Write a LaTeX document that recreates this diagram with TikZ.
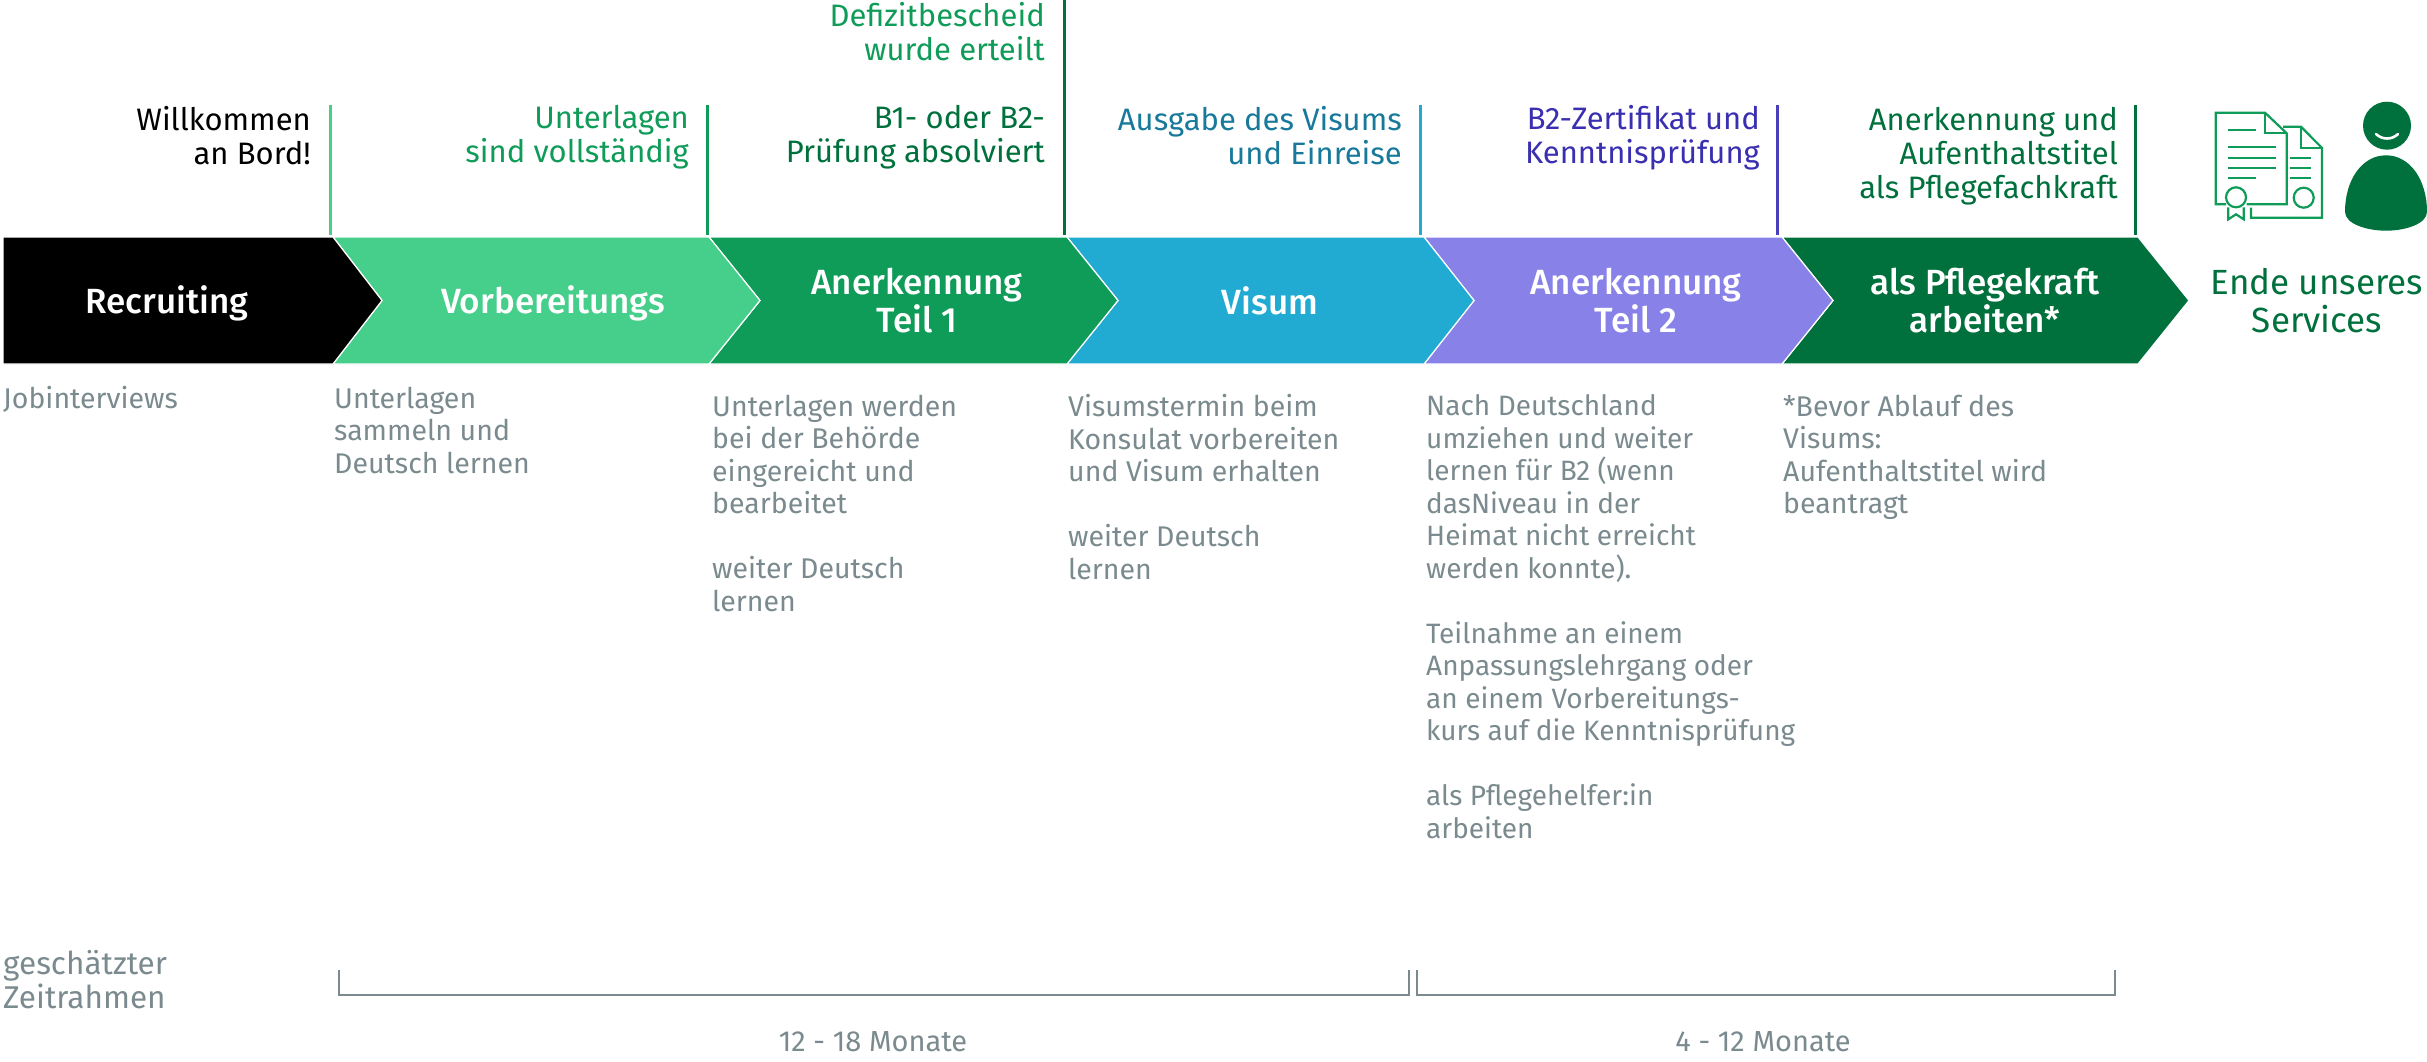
\documentclass[tikz,border=0pt]{standalone}
\usepackage{fontspec}
\setmainfont{Fira Sans}
\newfontfamily\phasefont{Fira Sans Medium}
\usetikzlibrary{positioning}

\definecolor{phaseBlack}{HTML}{000000}
\definecolor{phaseMint}{HTML}{46CE8B}
\definecolor{phaseGreen}{HTML}{0F9B58}
\definecolor{phaseBlue}{HTML}{22ABD2}
\definecolor{phaseViolet}{HTML}{8781E8}
\definecolor{phaseDark}{HTML}{00703C}
\definecolor{textBlue}{HTML}{18799B}
\definecolor{textViolet}{HTML}{3A2FB0}
\definecolor{textGrey}{HTML}{7A8A8E}

\tikzset{
chevron/.style={draw=white,line width=1.2pt},
phase/.style={text=white,font=\phasefont\fontsize{35}{38}\selectfont,align=center,inner sep=0pt},
milestone/.style={align=right,anchor=east,inner sep=0pt,font=\fontsize{31}{34}\selectfont},
mark line/.style={line width=3pt},
note/.style={text=textGrey,align=left,anchor=north west,inner sep=0pt,font=\fontsize{28.5}{32.5}\selectfont},
span/.style={text=textGrey,inner sep=0pt,font=\fontsize{29}{32.5}\selectfont},
bracket/.style={draw=textGrey,line width=2pt},
icon/.style={draw=phaseGreen,line width=2.2pt}
}

\begin{document}
\begin{tikzpicture}[%
x=1pt,
y=-1pt,
node distance=386pt,
on grid
]
\useasboundingbox (0,0) rectangle (2427,1061);

% arrows
\path[chevron,fill=phaseDark] (1782,237) -- (2138,237) -- (2189,300.5) -- (2138,364) -- (1782,364) -- (1833,300.5) -- cycle;
\path[chevron,fill=phaseViolet] (1424,237) -- (1782,237) -- (1833,300.5) -- (1782,364) -- (1424,364) -- (1474,300.5) -- cycle;
\path[chevron,fill=phaseBlue] (1067,237) -- (1424,237) -- (1474,300.5) -- (1424,364) -- (1067,364) -- (1118,300.5) -- cycle;
\path[chevron,fill=phaseGreen] (709,237) -- (1067,237) -- (1118,300.5) -- (1067,364) -- (709,364) -- (760,300.5) -- cycle;
\path[chevron,fill=phaseMint] (333,237) -- (709,237) -- (760,300.5) -- (709,364) -- (333,364) -- (382,300.5) -- cycle;
\path[chevron,fill=phaseBlack] (3,237) -- (333,237) -- (382,300.5) -- (333,364) -- (3,364) -- cycle;

\node[phase] (recruiting) at (167,303) {Recruiting};
\node[phase] (vorbereitung) [right of=recruiting] {Vorbereitungs};
\node[phase] (teil1) [right=364pt of vorbereitung,yshift=2pt] {Anerkennung\\Teil 1};
\node[phase] (visum) [right=353pt of teil1] {Visum};
\node[phase] (teil2) [right=366pt of visum] {Anerkennung\\Teil 2};
\node[phase] (pflege) [right=349pt of teil2] {als Pflegekraft\\arbeiten*};

% milestones
\coordinate (m1a) at (330,105);
\coordinate (m1b) at (330,235);
\coordinate (m2a) at (707,105);
\coordinate (m2b) at (707,235);
\coordinate (m3a) at (1064,0);
\coordinate (m3b) at (1064,235);
\coordinate (m4a) at (1420,105);
\coordinate (m4b) at (1420,235);
\coordinate (m5a) at (1777,105);
\coordinate (m5b) at (1777,235);
\coordinate (m6a) at (2135,105);
\coordinate (m6b) at (2135,235);
\draw[mark line,phaseMint] (m1a) -- (m1b);
\draw[mark line,phaseGreen] (m2a) -- (m2b);
\draw[mark line,phaseDark] (m3a) -- (m3b);
\draw[mark line,phaseBlue] (m4a) -- (m4b);
\draw[mark line,textViolet!80!phaseViolet] (m5a) -- (m5b);
\draw[mark line,phaseDark] (m6a) -- (m6b);

\node[milestone] (bord) at (311,136) {Willkommen\\an Bord!};
\node[milestone,text=phaseGreen] (docs) at (689,137.5) {Unterlagen\\sind vollständig};
\node[milestone,text=phaseGreen] (bescheid) at (1045,32) {Defizitbescheid\\wurde erteilt};
\node[milestone,text=phaseDark] (pruefung) at (1045,137.5) {B1- oder B2-\\Prüfung absolviert};
\node[milestone,text=textBlue] (einreise) at (1402,136) {Ausgabe des Visums\\und Einreise};
\node[milestone,text=textViolet] (zertifikat) at (1760,138) {B2-Zertifikat und\\Kenntnisprüfung};
\node[milestone,text=phaseDark] (titel) at (2118,156) {Anerkennung und\\Aufenthaltstitel\\als Pflegefachkraft};

% notes
\node[note] (n1) at (3,386.5) {Jobinterviews};
\node[note] (n2) at (334,386.5) {Unterlagen\\sammeln und\\Deutsch lernen};
\node[note] (n3) at (712,394.5) {Unterlagen werden\\bei der Behörde\\eingereicht und\\bearbeitet\\[32.5pt]weiter Deutsch\\lernen};
\node[note] (n4) at (1068,394.5) {Visumstermin beim\\Konsulat vorbereiten\\und Visum erhalten\\[32.5pt]weiter Deutsch\\lernen};
\node[note,font=\fontsize{28}{32.5}\selectfont] (n5) at (1426,394.5) {Nach Deutschland\\umziehen und weiter\\lernen für B2 (wenn\\dasNiveau in der\\Heimat nicht erreicht\\werden konnte).\\[32.5pt]Teilnahme an einem\\Anpassungslehrgang oder\\an einem Vorbereitungs-\\kurs auf die Kenntnisprüfung\\[32.5pt]als Pflegehelfer:in\\arbeiten};
\node[note] (n6) at (1783,394.5) {*Bevor Ablauf des\\Visums:\\Aufenthaltstitel wird\\beantragt};

% end of service
\fill[phaseDark] (2387,125.7) circle (24);
\draw[white,line width=2.6pt,line cap=round] (2376,134) .. controls (2382,140) and (2392,140) .. (2398,134);
\fill[phaseDark] (2345,211.7) .. controls (2345,180) and (2362,155.3) .. (2386,155.3) .. controls (2410,155.3) and (2427,180) .. (2427,211.7) .. controls (2427,224) and (2405,230.7) .. (2386,230.7) .. controls (2367,230.7) and (2345,224) .. (2345,211.7) -- cycle;

\draw[icon] (2226,204.3) -- (2215.7,204.3) -- (2215.7,112.7) -- (2265,112.7) -- (2286.7,133.3) -- (2286.7,204.3) -- (2246.7,204.3);
\draw[icon] (2265,112.7) -- (2265,133.3) -- (2286.7,133.3);
\draw[icon] (2283,126.7) -- (2301,126.7) -- (2322,148) -- (2322,217.7) -- (2251,217.7) -- (2251,207.7);
\draw[icon] (2301,126.7) -- (2301,148) -- (2322,148);
\draw[icon] (2228,130) -- (2256,130);
\draw[icon] (2228,147.3) -- (2275.7,147.3);
\draw[icon] (2228,157.7) -- (2275.7,157.7);
\draw[icon] (2228,167.7) -- (2275.7,167.7);
\draw[icon] (2228,177.7) -- (2256,177.7);
\draw[icon] (2290,157.7) -- (2311,157.7);
\draw[icon] (2290,167.7) -- (2311,167.7);
\draw[icon] (2290,177.7) -- (2311,177.7);
\draw[icon] (2236,197.3) circle (10);
\draw[icon] (2303.7,197.7) circle (10);
\draw[icon] (2228.3,207.3) -- (2228.3,219.3) -- (2236,214.3) -- (2243.7,219.3) -- (2243.7,207.3);

\node[text=phaseDark,align=center,inner sep=0pt,font=\fontsize{35}{38}\selectfont] (ende) at (2317,301) {Ende unseres\\Services};

% time frame
\node[note,anchor=west,font=\fontsize{31.5}{34}\selectfont] (zeit) at (3,980) {geschätzter\\Zeitrahmen};
\coordinate (b1a) at (339,970);
\coordinate (b1b) at (339,995);
\coordinate (b1c) at (1409,995);
\coordinate (b1d) at (1409,970);
\coordinate (b2a) at (1417,970);
\coordinate (b2b) at (1417,995);
\coordinate (b2c) at (2115,995);
\coordinate (b2d) at (2115,970);
\draw[bracket] (b1a) -- (b1b) -- (b1c) -- (b1d);
\draw[bracket] (b2a) -- (b2b) -- (b2c) -- (b2d);
\node[span] (dauer1) at (873,1042) {12 - 18 Monate};
\node[span] (dauer2) at (1763,1042) {4 - 12 Monate};

\end{tikzpicture}
\end{document}
